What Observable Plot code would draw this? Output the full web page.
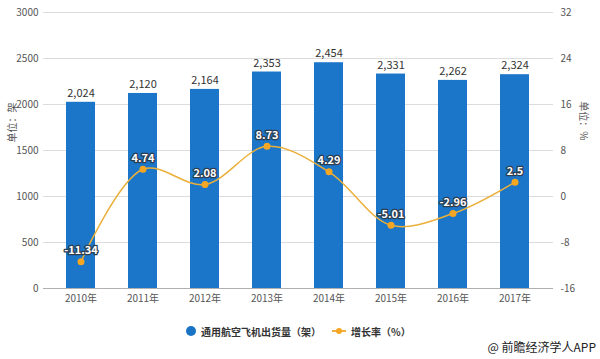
<!DOCTYPE html>
<html>
<head>
<meta charset="utf-8">
<script src="https://cdn.jsdelivr.net/npm/d3@7"></script>
<script src="https://cdn.jsdelivr.net/npm/@observablehq/plot@0.6"></script>
<style>
  body { margin: 0; background: #fff; }
  #wrap { position: relative; width: 600px; height: 359px; font-family: "Noto Sans CJK SC", "Noto Sans", sans-serif; }
  #legend { position: absolute; left: 0; top: 322px; width: 600px; height: 18px; font-size: 10px; font-weight: bold; color: #333; }
  .item { position: absolute; top: 0; display: flex; align-items: center; height: 18px; white-space: nowrap; }
  #caption { position: absolute; right: 4px; top: 338px; font-size: 12px; color: #222; white-space: nowrap; }
</style>
</head>
<body>
<div id="wrap">
  <div id="chart"></div>
  <div id="legend">
    <div class="item" style="left:185px;"><svg width="12" height="12" style="margin-right:4px"><circle cx="6" cy="6" r="5" fill="#1a73c4"/></svg><span>通用航空飞机出货量（架）</span></div>
    <div class="item" style="left:331px;"><svg width="16" height="12" style="margin-right:4px"><line x1="1" y1="6" x2="15" y2="6" stroke="#f0b040" stroke-width="2"/><circle cx="8" cy="6" r="3" fill="#f5a623"/></svg><span>增长率（%）</span></div>
  </div>
  <div id="caption">@ 前瞻经济学人APP</div>
</div>
<script>
const years = ["2010年","2011年","2012年","2013年","2014年","2015年","2016年","2017年"];
const deliveries = [2024, 2120, 2164, 2353, 2454, 2331, 2262, 2324];
const growth = [-11.34, 4.74, 2.08, 8.73, 4.29, -5.01, -2.96, 2.5];
const leftTicks = [0, 500, 1000, 1500, 2000, 2500, 3000];
const rightTicks = [-16, -8, 0, 8, 16, 24, 32];

const leftMax = 3000, rMin = -16, rMax = 32;
const toLeft = g => (g - rMin) * leftMax / (rMax - rMin);
const toRight = v => v * (rMax - rMin) / leftMax + rMin;

const data = years.map((y, i) => ({year: y, v: deliveries[i], g: growth[i], gy: toLeft(growth[i])}));

const chart = Plot.plot({
  width: 600,
  height: 310,
  marginTop: 12,
  marginBottom: 22,
  marginLeft: 43,
  marginRight: 47,
  x: {domain: years, paddingInner: 0.53, paddingOuter: 0.35, axis: null},
  y: {domain: [0, leftMax], axis: null},
  style: {fontFamily: "'Noto Sans CJK SC', 'Noto Sans', sans-serif", fontSize: "10px", color: "#555", background: "transparent"},
  marks: [
    Plot.gridY(leftTicks, {stroke: "#dcdcdc", strokeOpacity: 1}),
    Plot.axisY(leftTicks, {anchor: "left", tickSize: 0, tickPadding: 5, label: null, tickFormat: d => String(d)}),
    Plot.axisY(rightTicks.map(toLeft), {anchor: "right", tickSize: 0, tickPadding: 7, label: null, tickFormat: d => String(Math.round(toRight(d))), textAnchor: "start"}),
    Plot.axisX({tickSize: 0, tickPadding: 6, label: null}),
    Plot.ruleY([0], {stroke: "#b0b0b0"}),
    Plot.barY(data, {x: "year", y: "v", fill: "#1b75c8"}),
    Plot.text(data, {x: "year", y: "v", text: d => d3.format(",")(d.v), dy: -9, fontSize: 11, fill: "#333"}),
    Plot.line(data, {x: "year", y: "gy", stroke: "#eab03a", strokeWidth: 1.5, curve: "catmull-rom"}),
    Plot.dot(data, {x: "year", y: "gy", r: 3.5, fill: "#f5a623"}),
    Plot.text(data, {x: "year", y: "gy", text: d => String(d.g), dy: -11, fontSize: 11, fontWeight: "bold", fill: "white", stroke: "#2d3d50", strokeWidth: 2.5}),
    Plot.text(["单位：架"], {frameAnchor: "left", dx: -31, dy: -8, rotate: -90, fontSize: 10, fill: "#555"}),
    Plot.text(["单位：%"], {frameAnchor: "right", dx: 30, dy: -10, rotate: 90, fontSize: 10, fill: "#555"})
  ]
});
document.getElementById("chart").appendChild(chart);
</script>
</body>
</html>
